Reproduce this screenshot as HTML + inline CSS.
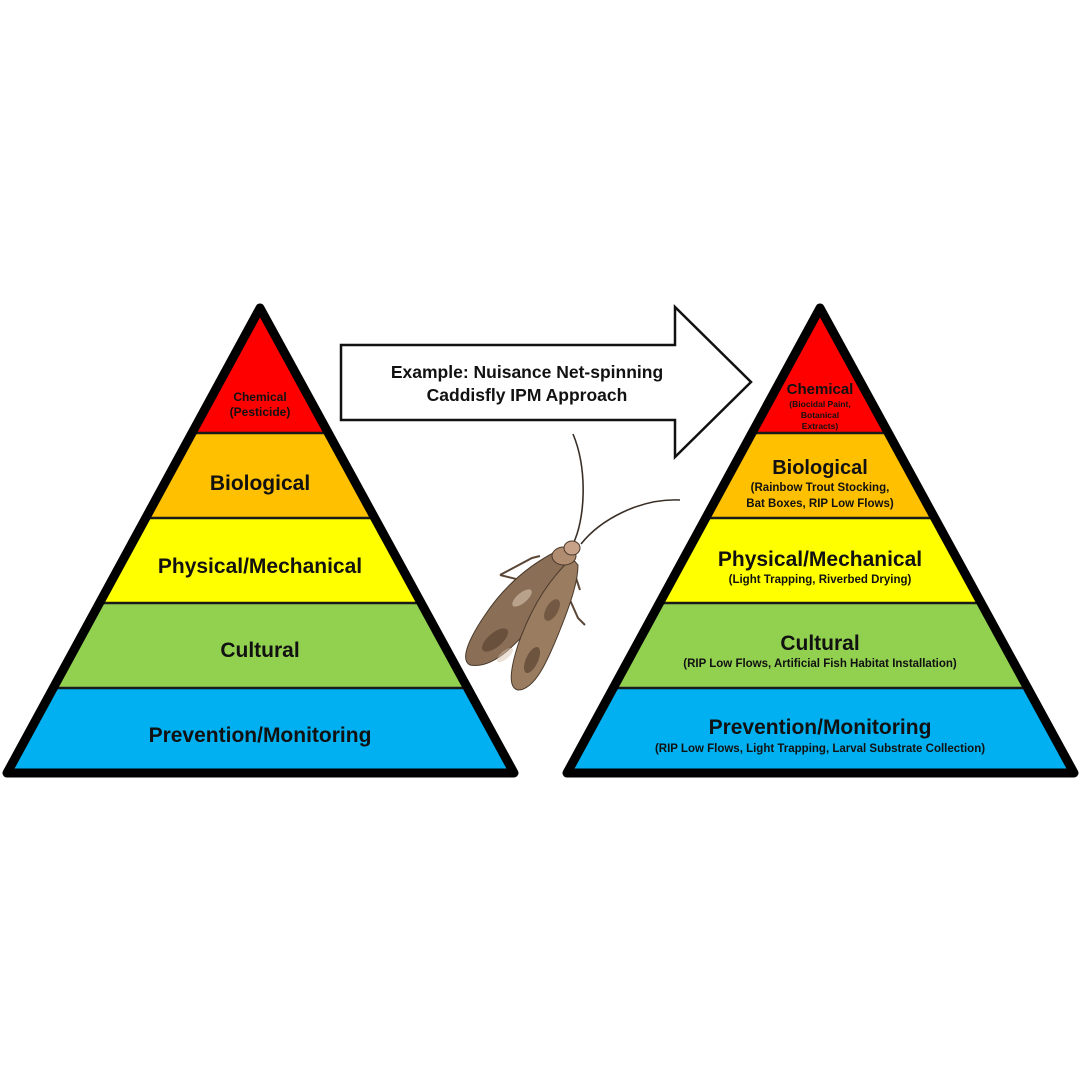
<!DOCTYPE html>
<html><head><meta charset="utf-8"><style>
html,body{margin:0;padding:0;background:#fff;width:1080px;height:1080px;overflow:hidden}
text{font-family:"Liberation Sans",Arial,sans-serif;font-weight:bold;fill:#111;text-anchor:middle}
</style></head><body>
<svg width="1080" height="1080" viewBox="0 0 1080 1080" xmlns="http://www.w3.org/2000/svg">
<defs>
<clipPath id="cl"><polygon points="260,308 7,773 514,773"/></clipPath>
<clipPath id="cr"><polygon points="820,308 567,773 1074,773"/></clipPath>
<g id="bands">
<rect x="0" y="290" width="1080" height="143" fill="#ff0000"/>
<rect x="0" y="433" width="1080" height="85" fill="#ffc000"/>
<rect x="0" y="518" width="1080" height="85" fill="#ffff00"/>
<rect x="0" y="603" width="1080" height="85" fill="#92d050"/>
<rect x="0" y="688" width="1080" height="100" fill="#00b0f0"/>
<g stroke="#1a1a1a" stroke-width="2.5"><line x1="0" y1="433" x2="1080" y2="433"/><line x1="0" y1="518" x2="1080" y2="518"/><line x1="0" y1="603" x2="1080" y2="603"/><line x1="0" y1="688" x2="1080" y2="688"/></g>
</g>
</defs>
<g clip-path="url(#cl)"><use href="#bands"/></g>
<g clip-path="url(#cr)"><use href="#bands"/></g>
<polygon points="260,308 7,773 514,773" fill="none" stroke="#000" stroke-width="9" stroke-linejoin="round"/>
<polygon points="820,308 567,773 1074,773" fill="none" stroke="#000" stroke-width="9" stroke-linejoin="round"/>

<text x="260" y="401" font-size="12">Chemical</text>
<text x="260" y="416" font-size="12">(Pesticide)</text>
<text x="260" y="490" font-size="21">Biological</text>
<text x="260" y="573" font-size="21">Physical/Mechanical</text>
<text x="260" y="657" font-size="21">Cultural</text>
<text x="260" y="742" font-size="21">Prevention/Monitoring</text>

<text x="820" y="394" font-size="15">Chemical</text>
<text x="820" y="407" font-size="8.5">(Biocidal Paint,</text>
<text x="820" y="418" font-size="8.5">Botanical</text>
<text x="820" y="429" font-size="8.5">Extracts)</text>
<text x="820" y="474" font-size="20">Biological</text>
<text x="820" y="491" font-size="11.5">(Rainbow Trout Stocking,</text>
<text x="820" y="507" font-size="11.5">Bat Boxes, RIP Low Flows)</text>
<text x="820" y="566" font-size="21">Physical/Mechanical</text>
<text x="820" y="583" font-size="11.5">(Light Trapping, Riverbed Drying)</text>
<text x="820" y="650" font-size="21">Cultural</text>
<text x="820" y="667" font-size="11.5">(RIP Low Flows, Artificial Fish Habitat Installation)</text>
<text x="820" y="734" font-size="21">Prevention/Monitoring</text>
<text x="820" y="752" font-size="11.5">(RIP Low Flows, Light Trapping, Larval Substrate Collection)</text>

<polygon points="341,345 675,345 675,307 751,382 675,457 675,420 341,420" fill="#fff" stroke="#111" stroke-width="2.5" stroke-linejoin="miter"/>
<text x="527" y="378" font-size="17.5">Example: Nuisance Net-spinning</text>
<text x="527" y="401" font-size="17.5">Caddisfly IPM Approach</text>

<g>
<path d="M573,544 C585,520 588,470 573,434" fill="none" stroke="#3a3028" stroke-width="1.6"/>
<path d="M581,544 C600,520 640,498 680,500" fill="none" stroke="#3a3028" stroke-width="1.6"/>
<path d="M540,556 L532,558 L500,575 M546,570 L520,580 L500,575 M575,575 L580,590 M570,600 L578,618 L585,625" stroke="#5a4636" stroke-width="2" fill="none"/>
<path d="M555,552 C530,565 505,585 485,615 C468,640 460,660 470,665 C495,670 520,640 545,610 C560,590 570,570 568,558 Z" fill="#8a6e55" stroke="#4a3a2c" stroke-width="1"/>
<path d="M572,558 C548,580 530,610 518,645 C510,670 508,688 518,690 C535,690 548,660 560,630 C572,600 578,580 578,565 Z" fill="#9a7c60" stroke="#4a3a2c" stroke-width="1"/>
<ellipse cx="495" cy="640" rx="16" ry="7" transform="rotate(-40 495 640)" fill="#5a4332" opacity="0.7"/>
<ellipse cx="532" cy="660" rx="14" ry="6" transform="rotate(-65 532 660)" fill="#5a4332" opacity="0.7"/>
<ellipse cx="552" cy="610" rx="12" ry="6" transform="rotate(-60 552 610)" fill="#5a4332" opacity="0.6"/>
<ellipse cx="522" cy="598" rx="12" ry="5" transform="rotate(-40 522 598)" fill="#d8c4b0" opacity="0.6"/>
<ellipse cx="505" cy="655" rx="10" ry="4" transform="rotate(-40 505 655)" fill="#d8c4b0" opacity="0.5"/>
<ellipse cx="564" cy="556" rx="12" ry="9" fill="#b08c70" stroke="#4a3a2c" stroke-width="1"/>
<ellipse cx="572" cy="548" rx="8" ry="7" fill="#c8a288" stroke="#4a3a2c" stroke-width="1"/>
</g>
</svg>
</body></html>
